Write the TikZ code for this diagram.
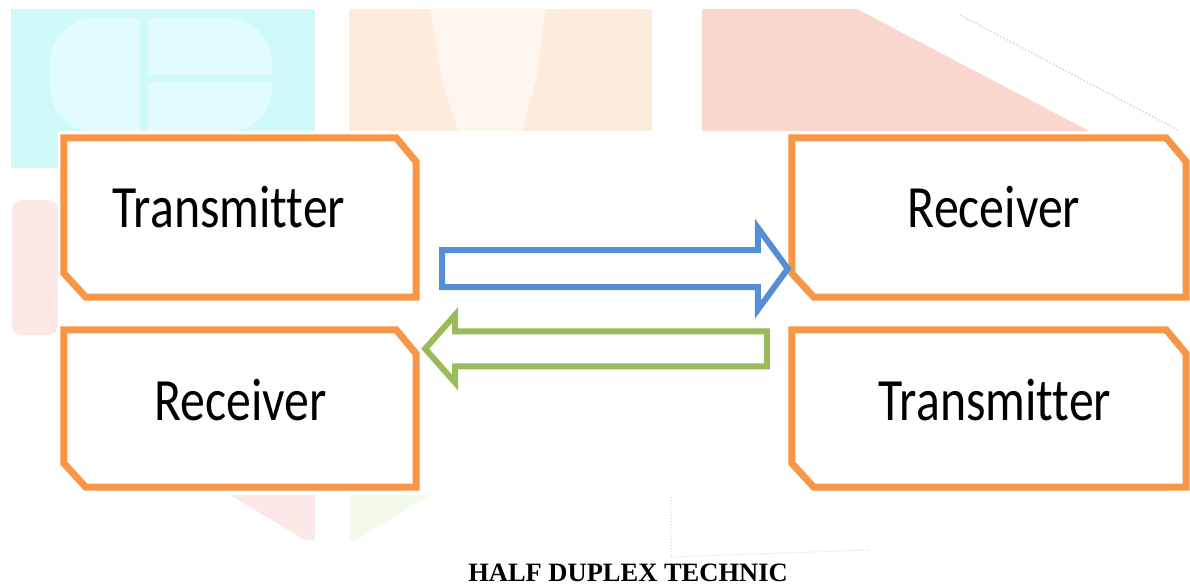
\documentclass[tikz,border=0pt]{standalone}
\usepackage{fontspec}
\usepackage{graphicx}
\setmainfont{Liberation Serif}
\newfontfamily\boxfont[Ligatures={NoCommon}]{Carlito}
\usetikzlibrary{calc}
\definecolor{boxorange}{RGB}{247,150,70}
\definecolor{arrblue}{RGB}{85,142,213}
\definecolor{arrgreen}{RGB}{155,187,89}
\definecolor{wmcyan}{RGB}{208,250,250}
\definecolor{wmcyanlight}{RGB}{226,252,252}
\definecolor{wmpeach}{RGB}{253,236,220}
\definecolor{wmpeachlight}{RGB}{254,247,240}
\definecolor{wmred}{RGB}{250,216,208}
\definecolor{wmpink}{RGB}{253,232,232}
\definecolor{wmgreen}{RGB}{242,250,234}
\definecolor{wmgray}{RGB}{215,215,215}
\tikzset{
  boxarea/.style={draw=none, inner sep=0pt, minimum height=159pt},
  boxline/.style={draw=boxorange, line width=7pt, fill=white, line join=miter},
  arrowline/.style={line width=6pt, line join=miter, fill=white},
  lbl/.style={font=\boxfont\fontsize{60}{66}\selectfont, inner sep=0pt, anchor=base},
  captionstyle/.style={font=\bfseries\fontsize{26.5}{30}\selectfont, inner sep=0pt, anchor=base}
}
\newcommand\chamferbox[1]{%
  \draw[boxline] (#1.north west) -- ([xshift=-20pt]#1.north east)
    -- ([yshift=-24pt]#1.north east) -- (#1.south east)
    -- ([xshift=22pt]#1.south west) -- ([yshift=24pt]#1.south west) -- cycle;}
\newcommand\blockarrow[6]{% colour, from, to, shaft half, head half, head length
  \draw[arrowline, draw=#1] let \p1=(#2), \p2=(#3), \p3=($(#3)!#6!(#2)$) in
    (\x1,{\y1+#4}) -- (\x3,{\y1+#4}) -- (\x3,{\y1+#5}) -- (\x2,\y2)
    -- (\x3,{\y1-#5}) -- (\x3,{\y1-#4}) -- (\x1,{\y1-#4}) -- cycle;}
\begin{document}
\begin{tikzpicture}[x=1pt,y=-1pt]
% page
\fill[white] (0,0) rectangle (1190,586);
\useasboundingbox (0,0) rectangle (1190,586);
% faint watermark
\fill[wmcyan] (11,9) rectangle (315,168);
\fill[wmcyanlight, rounded corners=45pt] (50,18) rectangle (272,132);
\fill[wmcyan] (140,18) rectangle (148,132);
\fill[wmcyan] (148,75) rectangle (272,82);
\fill[wmpeach] (349,9) rectangle (652,133);
\fill[wmpeachlight] (430,9) -- (546,9) -- (536,80) -- (522,131) -- (458,131) -- (442,80) -- cycle;
\fill[wmred] (702,9) -- (857,9) -- (1093,133) -- (702,133) -- cycle;
\draw[wmgray, dotted, line width=1.5pt] (960,15) -- (1178,130);
\fill[wmpink, rounded corners=10pt] (12,200) rectangle (58,335);
\fill[wmpink] (230,495) -- (315,495) -- (315,540) -- (305,540) -- cycle;
\fill[wmgreen] (350,495) -- (430,495) -- (355,540) -- (350,540) -- cycle;
\draw[wmgray, dotted, line width=1pt] (671,497) -- (671,557) -- (870,550);
\fill[white] (58,131) rectangle (1190,495);
% boxes
\node[boxarea, minimum width=352pt] (tl) at (240,217.5) {};
\node[boxarea, minimum width=352pt, minimum height=157pt] (bl) at (240,408.5) {};
\node[boxarea, minimum width=394pt] (tr) at (989,217.5) {};
\node[boxarea, minimum width=394pt, minimum height=157pt] (br) at (989,408.5) {};
\chamferbox{tl}
\chamferbox{bl}
\chamferbox{tr}
\chamferbox{br}
% labels
\node[lbl] (ltl) at (229,227) {\scalebox{0.83}[1]{Transmitter}};
\node[lbl] (ltr) at (994,227) {\scalebox{0.83}[1]{Receiver}};
\node[lbl] (lbl) at (240.5,420) {\scalebox{0.83}[1]{Receiver}};
\node[lbl] (lbr) at (995,420) {\scalebox{0.83}[1]{Transmitter}};
% arrows
\coordinate (b1) at ($(tl.south east)+(26,-28.5)$);
\coordinate (b2) at ($(tr.west |- b1)+(-4,0)$);
\coordinate (g1) at ($(br.north west)+(-25,19)$);
\coordinate (g2) at ($(bl.east |- g1)+(9,0)$);
\blockarrow{arrblue}{b1}{b2}{18.5pt}{41pt}{30pt}
\blockarrow{arrgreen}{g1}{g2}{17.5pt}{34pt}{30pt}
% caption
\node[captionstyle] (cap) at (628,581) {HALF DUPLEX TECHNIC};
\end{tikzpicture}
\end{document}
